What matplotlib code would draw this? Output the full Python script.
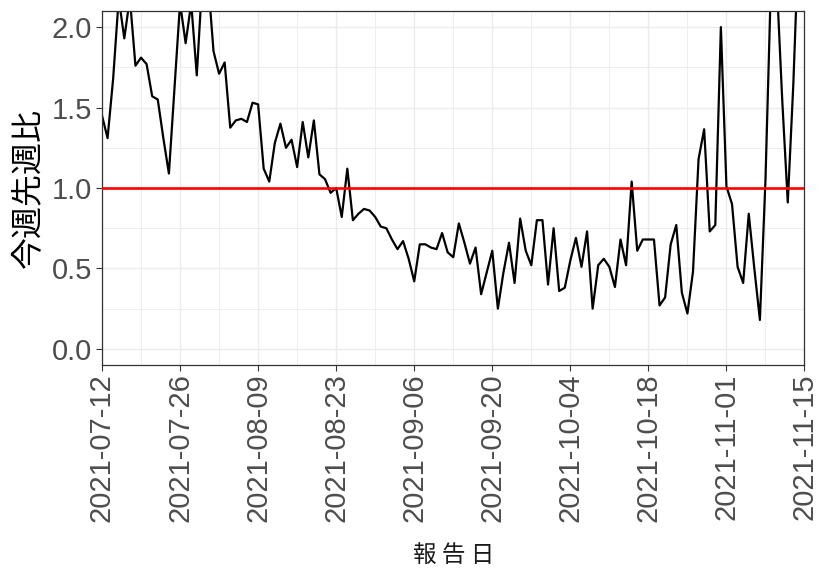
import numpy as np
import pandas as pd
import matplotlib
matplotlib.use('Agg')
import matplotlib.pyplot as plt
import matplotlib.dates as mdates

# 報告日ごとの今週先週比
start_date = '2021-07-12'
ratio = [
    1.45, 1.31, 1.68, 2.18, 1.93, 2.18, 1.76, 1.81, 1.77, 1.57,
    1.55, 1.31, 1.09, 1.62, 2.15, 1.90, 2.15, 1.70, 2.30, 2.30,
    1.85, 1.71, 1.78, 1.375, 1.42, 1.43, 1.41, 1.53, 1.52, 1.12,
    1.04, 1.28, 1.40, 1.25, 1.30, 1.13, 1.41, 1.19, 1.42, 1.085,
    1.055, 0.97, 1.00, 0.82, 1.12, 0.80, 0.84, 0.87, 0.86, 0.82,
    0.76, 0.75, 0.68, 0.62, 0.67, 0.56, 0.42, 0.65, 0.65, 0.63,
    0.62, 0.72, 0.60, 0.57, 0.78, 0.66, 0.53, 0.63, 0.34, 0.475,
    0.61, 0.25, 0.475, 0.66, 0.41, 0.81, 0.61, 0.52, 0.80, 0.80,
    0.40, 0.75, 0.36, 0.38, 0.55, 0.69, 0.51, 0.73, 0.25, 0.52,
    0.56, 0.51, 0.385, 0.68, 0.52, 1.04, 0.61, 0.68, 0.68, 0.68,
    0.27, 0.32, 0.65, 0.77, 0.35, 0.22, 0.48, 1.18, 1.365, 0.73,
    0.77, 2.00, 1.01, 0.90, 0.51, 0.41, 0.84, 0.50, 0.18, 1.05,
    2.30, 2.30, 1.55, 0.91, 1.65, 2.60,
]
dates = pd.date_range(start_date, periods=len(ratio), freq='D')

x_breaks = pd.date_range('2021-07-12', '2021-11-15', freq='14D')
x_minor = x_breaks[:-1] + pd.Timedelta(days=7)
y_breaks = [0.0, 0.5, 1.0, 1.5, 2.0]
y_minor = [0.25, 0.75, 1.25, 1.75]

tick_font = 'Liberation Sans'
cjk_font = ['Noto Sans CJK JP', 'DejaVu Sans']

fig = plt.figure(figsize=(8.29, 5.68), dpi=100)
ax = fig.add_axes([102 / 829, 1 - 365 / 568, (804.5 - 102) / 829, (365 - 11) / 568])

# グリッド（theme_bw風）
for d in x_minor:
    ax.axvline(d, color='#EBEBEB', lw=0.6, zorder=0)
for v in y_minor:
    ax.axhline(v, color='#EBEBEB', lw=0.6, zorder=0)
for d in x_breaks:
    ax.axvline(d, color='#EBEBEB', lw=1.0, zorder=0)
for v in y_breaks:
    ax.axhline(v, color='#EBEBEB', lw=1.0, zorder=0)

ax.plot(dates, ratio, color='black', lw=1.6, zorder=2)
ax.axhline(1.0, color='#FF0000', lw=1.9, zorder=3)

ax.set_xlim(x_breaks[0], x_breaks[-1])
ax.set_ylim(-0.1, 2.1)

ax.set_xticks(x_breaks)
ax.xaxis.set_major_formatter(mdates.DateFormatter('%Y-%m-%d'))
ax.set_yticks(y_breaks)
ax.set_yticklabels([f'{v:.1f}' for v in y_breaks])

ax.tick_params(axis='both', colors='#333333', length=4, width=0.8,
               labelcolor='#4D4D4D', labelsize=21)
ax.tick_params(axis='x', pad=2)
ax.tick_params(axis='y', pad=3)
for lbl in ax.get_xticklabels():
    lbl.set_rotation(90)
    lbl.set_fontfamily(tick_font)
for lbl in ax.get_yticklabels():
    lbl.set_fontfamily(tick_font)

for s in ax.spines.values():
    s.set_color('#333333')
    s.set_linewidth(0.9)

ax.set_ylabel('今週先週比', family=cjk_font, fontsize=23, color='black', labelpad=5)
ax.set_xlabel('報 告 日', family=cjk_font, fontsize=17, color='#1A1A1A', labelpad=16)

fig.savefig('out.png', dpi=100)
